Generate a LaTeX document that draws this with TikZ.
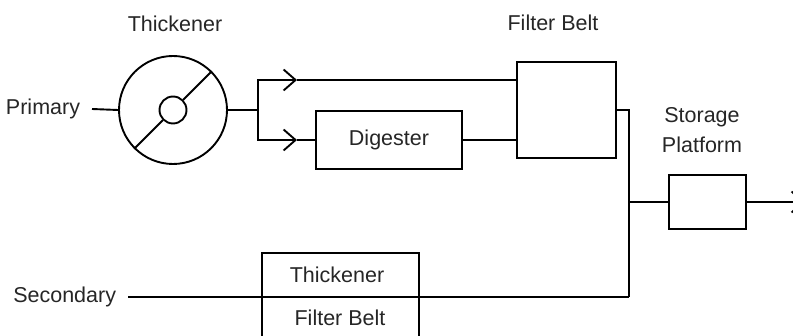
\documentclass[tikz,border=0pt]{standalone}
\usepackage{fontspec}
\setmainfont{Liberation Sans}
\usetikzlibrary{arrows.meta}

\begin{document}
\begin{tikzpicture}[x=1pt,y=-1pt,line width=1.9pt,
    every node/.style={font=\fontsize{21.5}{30}\selectfont,text=black!85},
    unitbox/.style={draw,rectangle,inner sep=0pt},
    flowtip/.style={-{Straight Barb[length=12pt,width=21pt,line width=1.9pt]}}]
  \useasboundingbox (0,0) rectangle (793,336);

  % primary line: thickener, split, digester, filter belt
  \node[draw,circle,minimum size=108pt,inner sep=0pt] (thick) at (173,110) {};
  \node[draw,circle,minimum size=27pt,inner sep=0pt] (hub) at (173,110) {};
  \draw (thick.45) -- (hub.45) (hub.225) -- (thick.225);
  \node (thicklbl) at (175,24) {Thickener};
  \node[anchor=east,inner xsep=11pt] (prim) at (92,109) {Primary};
  \draw (prim.east) -- (thick.west);

  \node[unitbox,minimum width=146pt,minimum height=58pt] (dig) at (389,140) {Digester};
  \node[unitbox,minimum width=99pt,minimum height=96pt] (fb) at (566.5,110) {};
  \node (fblbl) at (553,23) {Filter Belt};

  \coordinate (split) at (258,110);
  \coordinate (c1) at (297,80);
  \coordinate (c2) at (297,140);
  \draw (thick.east) -- (split);
  \draw[flowtip] (split) |- (c1);
  \draw[flowtip] (split) |- (c2);
  \draw (c1) -- (fb.west |- c1);
  \draw (c2) -- (dig.west);
  \draw (dig.east) -- (fb.west |- dig.east);

  % secondary line
  \node[anchor=east,inner xsep=11pt] (secl) at (128,297) {Secondary};
  \node[unitbox,minimum width=157pt,minimum height=88pt] (sec) at (340.5,297) {};
  \node (secA) at (337,275) {Thickener};
  \node (secB) at (340,318) {Filter Belt};

  % storage
  \coordinate (busend) at (629,297);
  \node[unitbox,minimum width=77pt,minimum height=54pt] (sto) at (707.5,202) {};
  \node[align=center] (stolbl) at (702,130) {Storage\\Platform};
  \coordinate (out) at (805,202);
  \draw (fb.east) -| (busend);
  \draw (secl.east) -- (busend);
  \draw (busend |- sto.west) -- (sto.west);
  \draw[flowtip] (sto.east) -- (out);
\end{tikzpicture}
\end{document}
